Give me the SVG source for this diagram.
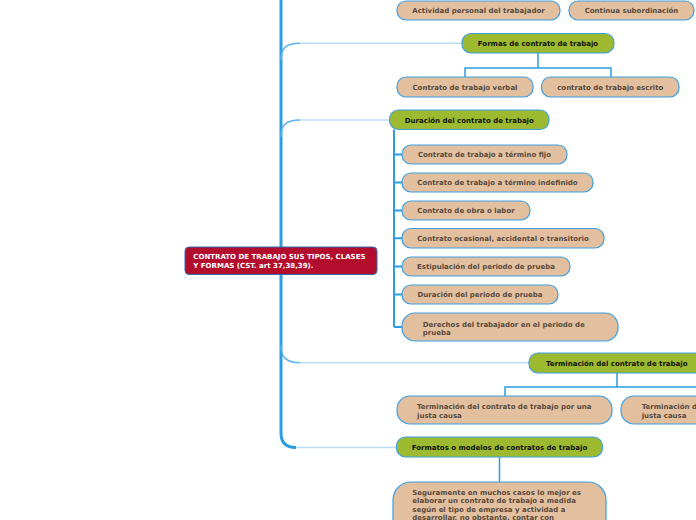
<svg xmlns="http://www.w3.org/2000/svg" width="696" height="520" viewBox="0 0 696 520">
<style>
.t{fill:#e2bf9f;stroke:#3d9fe2;stroke-width:1.2}
.g{fill:#9db92f;stroke:#3d9fe2;stroke-width:1.2}
.tt{font-family:"DejaVu Sans",Verdana,sans-serif;font-weight:bold;font-size:7px;fill:#5a4a3c}
.gt{font-family:"DejaVu Sans",Verdana,sans-serif;font-weight:bold;font-size:7px;fill:#111}
.m{text-anchor:middle}
.trunk{fill:none;stroke:#2a9de3;stroke-width:3}
.br{fill:none;stroke:#b7def6;stroke-width:1.5}
.bc{fill:none;stroke:#5db3ea;stroke-width:1.5}
.ln{fill:none;stroke:#2a9de3;stroke-width:1.5}
</style>
<rect width="696" height="520" fill="#fff"/>
<g id="connectors">
<path class="trunk" d="M281,-5 L281,433 Q281,447.5 296,447.5"/>
<path class="bc" d="M281,60 C281,48 286,43.3 300,43.3"/>
<path class="br" d="M300,43.3 L462,43.3"/>
<path class="bc" d="M281,137 C281,125 286,120 300,120"/>
<path class="br" d="M300,120 L390,120"/>
<path class="bc" d="M281,345 C281,357 286,362.7 300,362.7"/>
<path class="br" d="M300,362.7 L529,362.7"/>
<path class="br" d="M296,447.5 L397,447.5"/>
<path class="ln" d="M538,53 L538,68 M465,77 L465,68 L611,68 L611,77"/>
<path class="ln" d="M394,129.5 L394,327 M394,154.5 H402 M394,182.5 H402 M394,210.5 H402 M394,238.2 H402 M394,266.5 H402 M394,294.5 H402 M394,327 H402" style="stroke-width:2"/>
<path class="ln" d="M617,373 L617,387 M505,396 L505,387 L700,387"/>
<path class="ln" d="M499.5,457 L499.5,482"/>
</g>
<g id="root">
<rect x="185" y="247" width="192" height="27.5" rx="4" fill="#b30d2d" stroke="#2d6fb0" stroke-width="1"/>
<text x="193.3" y="259.3" font-family="'DejaVu Sans',Verdana,sans-serif" font-weight="bold" font-size="7" fill="#fff">CONTRATO DE TRABAJO SUS TIPOS, CLASES</text>
<text x="193.3" y="267.7" font-family="'DejaVu Sans',Verdana,sans-serif" font-weight="bold" font-size="7" fill="#fff">Y FORMAS (CST. art 37,38,39).</text>
</g>
<g id="n-actividad"><rect class="t" x="397" y="1" width="163" height="19" rx="9"/><text class="tt m" x="478.5" y="13">Actividad personal del trabajador</text></g>
<g id="n-continua"><rect class="t" x="569" y="1" width="125" height="19" rx="9"/><text class="tt m" x="631.5" y="13">Continua subordinación</text></g>
<g id="n-formas"><rect class="g" x="462" y="33.5" width="152" height="19.5" rx="9"/><text class="gt m" x="538" y="45.8">Formas de contrato de trabajo</text></g>
<g id="n-verbal"><rect class="t" x="397" y="77" width="136" height="20" rx="9"/><text class="tt m" x="465" y="89.5">Contrato de trabajo verbal</text></g>
<g id="n-escrito"><rect class="t" x="541.5" y="77" width="137.5" height="20" rx="9"/><text class="tt m" x="610.3" y="89.5">contrato de trabajo escrito</text></g>
<g id="n-duracion"><rect class="g" x="389.5" y="110" width="159.5" height="19.5" rx="9"/><text class="gt m" x="469.3" y="122.7">Duración del contrato de trabajo</text></g>
<g id="n-fijo"><rect class="t" x="402" y="145" width="165" height="19" rx="9"/><text class="tt m" x="484.5" y="157">Contrato de trabajo a término fijo</text></g>
<g id="n-indefinido"><rect class="t" x="402" y="173" width="191" height="19" rx="9"/><text class="tt m" x="497.5" y="185">Contrato de trabajo a término indefinido</text></g>
<g id="n-obra"><rect class="t" x="402" y="201" width="128" height="19" rx="9"/><text class="tt m" x="466" y="213">Contrato de obra o labor</text></g>
<g id="n-ocasional"><rect class="t" x="402" y="228.5" width="202" height="19.5" rx="9"/><text class="tt m" x="503" y="240.8">Contrato ocasional, accidental o transitorio</text></g>
<g id="n-estipulacion"><rect class="t" x="402" y="257" width="168" height="19" rx="9"/><text class="tt m" x="486" y="269">Estipulación del periodo de prueba</text></g>
<g id="n-duracionp"><rect class="t" x="402" y="285" width="156" height="19" rx="9"/><text class="tt m" x="480" y="297">Duración del periodo de prueba</text></g>
<g id="n-derechos"><rect class="t" x="402" y="313" width="216" height="28" rx="13"/><text class="tt" x="422.7" y="326.5">Derechos del trabajador en el periodo de</text><text class="tt" x="422.7" y="334.8">prueba</text></g>
<g id="n-terminacion"><rect class="g" x="529" y="353" width="176" height="20" rx="9"/><text class="gt" x="546" y="365.5">Terminación del contrato de trabajo</text></g>
<g id="n-justa"><rect class="t" x="397" y="396" width="215" height="28" rx="13"/><text class="tt" x="417" y="409">Terminación del contrato de trabajo por una</text><text class="tt" x="417" y="417.5">justa causa</text></g>
<g id="n-sinjusta"><rect class="t" x="621" y="396" width="215" height="28" rx="13"/><text class="tt" x="641.7" y="409">Terminación del contrato de trabajo sin</text><text class="tt" x="641.7" y="417.5">justa causa</text></g>
<g id="n-formatos"><rect class="g" x="396.5" y="437" width="206" height="20" rx="9"/><text class="gt m" x="499.5" y="450.3">Formatos o modelos de contratos de trabajo</text></g>
<g id="n-seguramente"><rect class="t" x="393" y="482" width="213" height="70" rx="18"/>
<text class="tt" x="412.3" y="494.8">Seguramente en muchos casos lo mejor es</text>
<text class="tt" x="412.3" y="503.2">elaborar un contrato de trabajo a medida</text>
<text class="tt" x="412.3" y="511.5">según el tipo de empresa y actividad a</text>
<text class="tt" x="412.3" y="519.8">desarrollar, no obstante, contar con</text>
</g>
</svg>
